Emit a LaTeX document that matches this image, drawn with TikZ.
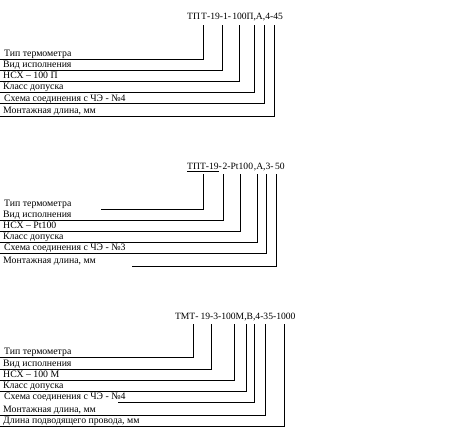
\documentclass[tikz,border=0pt]{standalone}
\usepackage{fontspec}
\setmainfont{Liberation Serif}
\begin{document}
\begin{tikzpicture}[x=1pt,y=-1pt,
  lbl/.style={anchor=base west,inner sep=0pt,font=\fontsize{9.8}{10}\selectfont},
  ttl/.style={anchor=base west,inner sep=0pt,font=\fontsize{9.6}{10}\selectfont},
  ln/.style={line width=0.9pt,black}]
\useasboundingbox[fill=white] (0,0) rectangle (470,437);

% ---------- Block 1 ----------
\node[ttl] (t1) at (187,19) {ТП\hspace{1.2pt}Т-19-1-\hspace{1.2pt}100П,А,4-45};
\foreach \n/\x in {1/203,2/222.3,3/239,4/254.3,5/264.3,6/274.5}
  \coordinate (a\n) at (\x,25);
\foreach \n/\y/\s in {1/59.3/0,2/70.3/0,3/81.3/0,4/92.3/0,5/103.7/0,6/116.3/0}
  \coordinate (ae\n) at (\s,\y);
\node[lbl] (l11) at (4,56.8) {Тип термометра};
\node[lbl] (l12) at (3,67.8) {Вид исполнения};
\node[lbl] (l13) at (3,78.8) {НСХ – 100 П};
\node[lbl] (l14) at (3,89.8) {Класс допуска};
\node[lbl] (l15) at (4,101.2) {Схема соединения с ЧЭ - №4};
\node[lbl] (l16) at (3,113.8) {Монтажная длина, мм};
\foreach \n in {1,...,6} \draw[ln] (a\n) |- (ae\n);

% ---------- Block 2 ----------
\node[ttl] (t2) at (187,169.3) {\underline{ТПТ-19}-\hspace{0.8pt}2-Pt100\hspace{0.8pt},А,3-\hspace{1.5pt}50};
\foreach \n/\x in {1/203.3,2/223.3,3/240,4/257.3,5/266,6/276}
  \coordinate (b\n) at (\x,174);
\foreach \n/\y/\s in {1/209.3/101,2/220/0,3/231.3/0,4/242.3/0,5/253.3/0,6/266/132}
  \coordinate (be\n) at (\s,\y);
\node[lbl] (l21) at (4,206.8) {Тип термометра};
\node[lbl] (l22) at (3,217.5) {Вид исполнения};
\node[lbl] (l23) at (3,228.8) {НСХ – Pt100};
\node[lbl] (l24) at (3,239.8) {Класс допуска};
\node[lbl] (l25) at (4,250.8) {Схема соединения с ЧЭ - №3};
\node[lbl] (l26) at (3,263.5) {Монтажная длина, мм};
\foreach \n in {1,...,6} \draw[ln] (b\n) |- (be\n);

% ---------- Block 3 ----------
\node[ttl] (t3) at (175,319) {ТМТ-\hspace{2pt}19-3-100М,В,4-35-1000};
\foreach \n/\x in {1/193.3,2/211.5,3/234.3,4/246.5,5/254.5,6/265.7,7/284.5}
  \coordinate (c\n) at (\x,324);
\foreach \n/\y/\s in {1/357.3/0,2/369/0,3/380/0,4/391/0,5/402.3/118,6/415/0,7/426/0}
  \coordinate (ce\n) at (\s,\y);
\node[lbl] (l31) at (4,354.8) {Тип термометра};
\node[lbl] (l32) at (3,366.5) {Вид исполнения};
\node[lbl] (l33) at (3,377.5) {НСХ – 100 М};
\node[lbl] (l34) at (3,388.5) {Класс допуска};
\node[lbl] (l35) at (4,399.8) {Схема соединения с ЧЭ - №4};
\node[lbl] (l36) at (3,412.5) {Монтажная длина, мм};
\node[lbl] (l37) at (3,423.5) {Длина подводящего провода, мм};
\foreach \n in {1,...,7} \draw[ln] (c\n) |- (ce\n);
\end{tikzpicture}
\end{document}
